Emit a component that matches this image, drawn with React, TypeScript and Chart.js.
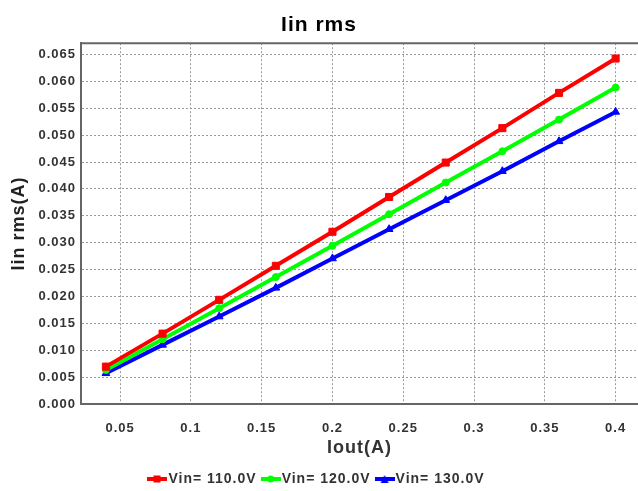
import React, { useEffect, useRef } from "react";
import { Chart, registerables } from "chart.js";

Chart.register(...registerables);

// Output current (A)
const CURRENT_OUT = [0.04, 0.08, 0.12, 0.16, 0.2, 0.24, 0.28, 0.32, 0.36, 0.4];

// Input RMS current (A) per input voltage
const VIN_110 = [0.00695, 0.01309, 0.01937, 0.0257, 0.03203, 0.0385, 0.0449, 0.0513, 0.05786, 0.06425];
const VIN_120 = [0.00633, 0.01205, 0.01782, 0.0236, 0.02942, 0.0353, 0.0412, 0.047, 0.05289, 0.05885];
const VIN_130 = [0.00571, 0.01099, 0.01626, 0.0216, 0.02706, 0.0325, 0.0379, 0.0433, 0.04885, 0.05432];

const SERIES_LABELS = ["Vin= 110.0V", "Vin= 120.0V", "Vin= 130.0V"];
const SERIES_COLORS = ["#ff0000", "#00ff00", "#0000ff"];

const X_TICKS = [0.05, 0.1, 0.15, 0.2, 0.25, 0.3, 0.35, 0.4];
const X_TICK_LABELS = ["0.05", "0.1", "0.15", "0.2", "0.25", "0.3", "0.35", "0.4"];
const Y_TICKS = [0, 0.005, 0.01, 0.015, 0.02, 0.025, 0.03, 0.035, 0.04, 0.045, 0.05, 0.055, 0.06, 0.065];

const X_MIN = 0.0224;
const X_MAX = 0.4158;
const Y_MIN = 0;
const Y_MAX = 0.0671;

const FONT = "'Liberation Sans', Arial, Helvetica, sans-serif";
const FRAME = "#666666";

function legendIcon(color: string, marker: string): HTMLCanvasElement {
  const c = document.createElement("canvas");
  c.width = 20;
  c.height = 8;
  const g = c.getContext("2d")!;
  g.strokeStyle = color;
  g.fillStyle = color;
  g.lineWidth = 4;
  g.beginPath();
  g.moveTo(0, 4);
  g.lineTo(20, 4);
  g.stroke();
  g.beginPath();
  if (marker === "rect") {
    g.rect(6, 0.5, 7, 7);
  } else if (marker === "circle") {
    g.arc(10, 4, 3.5, 0, Math.PI * 2);
  } else {
    g.moveTo(10, 0);
    g.lineTo(14, 8);
    g.lineTo(6, 8);
    g.closePath();
  }
  g.fill();
  return c;
}

const spacingPlugin = {
  id: "letterSpacing",
  beforeUpdate(chart: any) {
    chart.ctx.letterSpacing = "1px";
  },
  beforeDraw(chart: any) {
    chart.ctx.letterSpacing = "1px";
  },
};

const topFramePlugin = {
  id: "topFrame",
  afterDraw(chart: any) {
    const { ctx, chartArea } = chart;
    ctx.save();
    ctx.strokeStyle = FRAME;
    ctx.lineWidth = 2;
    ctx.beginPath();
    ctx.moveTo(chartArea.left, chartArea.top);
    ctx.lineTo(chartArea.right, chartArea.top);
    ctx.stroke();
    ctx.restore();
  },
};

export default function App() {
  const ref = useRef<HTMLCanvasElement | null>(null);

  useEffect(() => {
    if (!ref.current) return;
    const markers = ["rect", "circle", "triangle"];
    const radii = [5, 3.5, 4.5];
    const series = [VIN_110, VIN_120, VIN_130];
    const icons = SERIES_COLORS.map((c, i) => legendIcon(c, markers[i]));

    const chart = new Chart(ref.current, {
      type: "line",
      data: {
        datasets: series.map((values, i) => ({
          label: SERIES_LABELS[i],
          data: CURRENT_OUT.map((x, j) => ({ x, y: values[j] })),
          borderColor: SERIES_COLORS[i],
          backgroundColor: SERIES_COLORS[i],
          pointBackgroundColor: SERIES_COLORS[i],
          pointBorderColor: SERIES_COLORS[i],
          borderWidth: 4,
          pointStyle: markers[i] as any,
          pointRadius: radii[i],
          pointBorderWidth: 1,
          tension: 0,
          fill: false,
        })),
      },
      options: {
        responsive: false,
        animation: false,
        layout: { autoPadding: false, padding: { left: 0, right: 0, top: 0, bottom: -5 } },
        plugins: {
          title: {
            display: true,
            text: "Iin rms",
            color: "#000",
            font: { family: FONT, size: 21, weight: "bold" },
            padding: { top: 13, bottom: 5 },
          },
          legend: {
            display: true,
            position: "bottom",
            labels: {
              usePointStyle: true,
              pointStyleWidth: 8,
              padding: 10,
              color: "#333",
              font: { family: FONT, size: 14, weight: "bold" },
              generateLabels: (c: any) =>
                c.data.datasets.map((ds: any, i: number) => ({
                  text: ds.label,
                  pointStyle: icons[i],
                  fillStyle: ds.borderColor,
                  strokeStyle: ds.borderColor,
                  lineWidth: 0,
                  hidden: false,
                  datasetIndex: i,
                  fontColor: "#333",
                })),
            },
          },
          tooltip: { enabled: false },
        },
        scales: {
          x: {
            type: "linear",
            min: X_MIN,
            max: X_MAX,
            afterFit: (s: any) => {
              s.height = 58;
            },
            afterBuildTicks: (s: any) => {
              s.ticks = X_TICKS.map((v) => ({ value: v }));
            },
            ticks: {
              padding: -14,
              color: "#333",
              font: { family: FONT, size: 13, weight: "bold" },
              callback: (v: any) => {
                const i = X_TICKS.indexOf(Number(v));
                return i >= 0 ? X_TICK_LABELS[i] : "";
              },
            },
            grid: {
              color: "#999",
              lineWidth: 1,
              drawTicks: true,
              tickLength: 31,
              tickColor: "rgba(0,0,0,0)",
            },
            border: { display: true, color: FRAME, width: 2, dash: [2, 2] },
            title: {
              display: true,
              text: "Iout(A)",
              color: "#333",
              font: { family: FONT, size: 18, weight: "bold" },
              padding: { top: 0, bottom: 3 },
            },
          },
          y: {
            type: "linear",
            min: Y_MIN,
            max: Y_MAX,
            afterFit: (s: any) => {
              s.width = 81;
            },
            afterBuildTicks: (s: any) => {
              s.ticks = Y_TICKS.map((v) => ({ value: v }));
            },
            ticks: {
              padding: 5,
              color: "#333",
              font: { family: FONT, size: 13, weight: "bold" },
              callback: (v: any) => Number(v).toFixed(3),
            },
            grid: { color: "#999", lineWidth: 1, drawTicks: false },
            border: { display: true, color: FRAME, width: 2, dash: [2, 2] },
            title: {
              display: true,
              text: "Iin rms(A)",
              color: "#222",
              font: { family: FONT, size: 18, weight: "bold" },
              padding: { top: 8, bottom: 0 },
            },
          },
        },
      },
      plugins: [spacingPlugin, topFramePlugin],
    } as any);

    return () => chart.destroy();
  }, []);

  return (
    <div style={{ position: "absolute", left: 0, top: 0, width: 638, height: 491, background: "#fff" }}>
      <canvas ref={ref} width={638} height={491} style={{ display: "block" }} />
    </div>
  );
}
